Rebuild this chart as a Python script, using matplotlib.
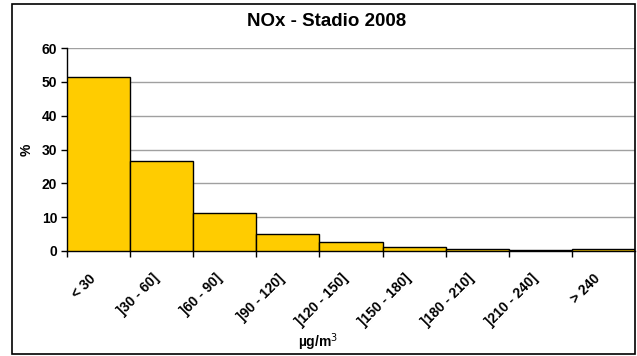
import numpy as np
import matplotlib.pyplot as plt
import matplotlib.transforms as mtransforms
from matplotlib.patches import Rectangle

plt.rcParams['font.family'] = ['Liberation Sans', 'DejaVu Sans']

classes = ["< 30", "]30 - 60]", "]60 - 90]", "]90 - 120]", "]120 - 150]",
           "]150 - 180]", "]180 - 210]", "]210 - 240]", "> 240"]
percent = [51.4, 26.5, 11.2, 4.9, 2.8, 1.3, 0.7, 0.3, 0.7]

fig = plt.figure(figsize=(6.37, 3.56), dpi=100)
ax = fig.add_axes([67 / 637, 1 - 251 / 356, (635 - 67) / 637, (251 - 48) / 356])

x = np.arange(len(classes))
ax.bar(x, percent, width=1.0, align='edge', color='#FFCC00',
       edgecolor='black', linewidth=1.0, zorder=3)

ax.set_xlim(0, len(classes))
ax.set_ylim(0, 60)
ax.set_yticks(range(0, 61, 10))
ax.yaxis.grid(True, color='#a0a0a0', linewidth=1.0, zorder=0)

# ticks at class boundaries, labels centred below each class
ax.set_xticks(np.arange(len(classes)))
ax.set_xticklabels([])
ax.set_xticks(x + 0.5, minor=True)
ax.set_xticklabels(classes, minor=True, rotation=45, ha='right', va='top',
                   rotation_mode='anchor', fontsize=10, fontweight='bold')
ax.tick_params(axis='x', which='minor', length=0, pad=11)
ax.tick_params(axis='x', which='major', length=4, width=1, direction='out')
ax.tick_params(axis='y', length=4, width=1, labelsize=10, pad=3)
for lab in ax.get_yticklabels():
    lab.set_fontweight('bold')
shift = mtransforms.ScaledTranslation(-0.10, -0.05, fig.dpi_scale_trans)
for lab in ax.get_xticklabels(minor=True):
    lab.set_transform(lab.get_transform() + shift)

for s in ['top', 'right']:
    ax.spines[s].set_visible(False)
for s in ['left', 'bottom']:
    ax.spines[s].set_color('black')
    ax.spines[s].set_linewidth(1.0)

ax.set_ylabel('%', fontsize=10, fontweight='bold', labelpad=6)
fig.text(318 / 637, 1 - 342 / 356, 'µg/m$^3$', ha='center', va='center',
         fontsize=10, fontweight='bold')
fig.text(327 / 637, 1 - 21 / 356, 'NOx - Stadio 2008', ha='center', va='center',
         fontsize=13.5, fontweight='bold')

# outer chart frame
fig.patches.append(Rectangle((12 / 637, 2 / 356), (635 - 12) / 637, (352 - 2) / 356,
                             transform=fig.transFigure, fill=False,
                             edgecolor='black', linewidth=1.2))

fig.savefig('out.png', dpi=100)
